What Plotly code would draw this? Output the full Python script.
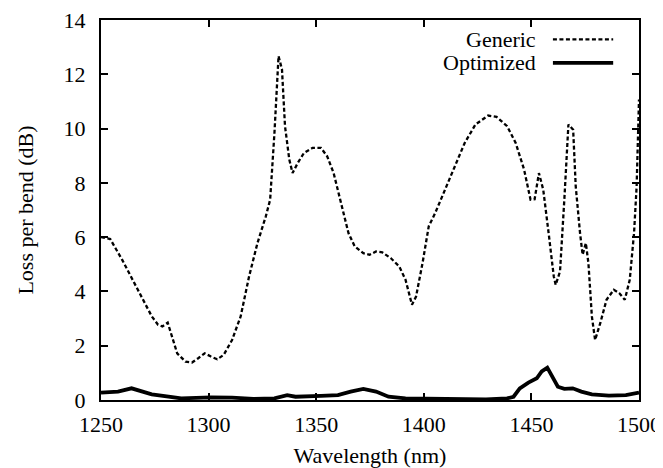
import plotly.graph_objs as go

# Generic fibre: wavelength (nm) and loss per bend (dB)
generic_wl = [1250, 1254.3, 1259.8, 1263.8, 1269.7, 1273.6, 1276.5, 1278.5, 1281, 1282.4,
              1285.4, 1289.3, 1292.3, 1295.2, 1298.2, 1301.1, 1304, 1307, 1310.9, 1314.9,
              1318.8, 1322.7, 1326.6, 1328.6, 1330.6, 1332.5, 1334.1, 1335.5, 1337.5, 1339,
              1341.4, 1344.3, 1348.3, 1352.2, 1355.1, 1358.1, 1362, 1365, 1367.9, 1371.9,
              1374.8, 1377.8, 1380.7, 1384.6, 1388.6, 1391.5, 1394.5, 1396.4, 1399.4, 1402.3,
              1405.3, 1409.2, 1414.1, 1419, 1424, 1429.9, 1433.8, 1438.7, 1442.7, 1446.6,
              1449.6, 1451.5, 1453.5, 1455.5, 1458, 1460.4, 1461.3, 1463.3, 1465.3, 1467.2,
              1469.4, 1470.6, 1472.6, 1473.8, 1475.3, 1476.5, 1478.1, 1479.6, 1482, 1484.9,
              1488.3, 1490.8, 1493.4, 1495.7, 1497.7, 1498.9, 1500]
generic_loss = [6.0, 5.93, 5.17, 4.55, 3.69, 3.08, 2.77, 2.71, 2.85, 2.46,
                1.72, 1.41, 1.38, 1.54, 1.72, 1.60, 1.50, 1.66, 2.21, 3.08,
                4.55, 5.78, 6.77, 7.38, 9.84, 12.67, 12.18, 10.09, 8.86, 8.36,
                8.73, 9.10, 9.29, 9.29, 8.98, 8.36, 7.13, 6.15, 5.66, 5.41,
                5.35, 5.47, 5.44, 5.23, 4.92, 4.43, 3.51, 3.81, 5.04, 6.40,
                6.89, 7.63, 8.49, 9.47, 10.15, 10.48, 10.43, 10.09, 9.47, 8.49,
                7.38, 7.40, 8.36, 7.75, 6.15, 4.55, 4.24, 4.74, 7.38, 10.15,
                9.96, 7.87, 6.15, 5.35, 5.78, 5.04, 3.08, 2.21, 2.83, 3.69,
                4.06, 3.94, 3.69, 4.43, 6.15, 7.87, 11.07]

# Optimized fibre
opt_wl = [1250, 1257.9, 1264.2, 1267.7, 1273.6, 1281.4, 1287.3, 1301.1, 1310.9, 1320.8,
          1330.6, 1336.5, 1340.4, 1352.2, 1360.1, 1366, 1371.9, 1377.8, 1383.6, 1391.5,
          1409.2, 1428.9, 1438.7, 1441.7, 1444.6, 1448.6, 1452.5, 1454.8, 1457.4, 1459.4,
          1462.3, 1465.3, 1469.2, 1473.2, 1478.1, 1486, 1493.9, 1500]
opt_loss = [0.27, 0.31, 0.43, 0.34, 0.21, 0.12, 0.06, 0.10, 0.09, 0.04,
            0.06, 0.18, 0.12, 0.15, 0.18, 0.31, 0.41, 0.31, 0.12, 0.06,
            0.04, 0.02, 0.06, 0.12, 0.43, 0.64, 0.80, 1.05, 1.19, 0.92,
            0.49, 0.41, 0.43, 0.31, 0.21, 0.16, 0.18, 0.27]

legend_names = ["Generic", "Optimized"]

FONT = "Liberation Serif, Times New Roman, serif"
SIZE = 22

generic_line = dict(color="black", width=2.3, dash="4px,2.5px")
opt_line = dict(color="black", width=3.8)

fig = go.Figure()
fig.add_trace(go.Scatter(x=generic_wl, y=generic_loss, mode="lines", name=legend_names[0],
                         line=generic_line, showlegend=False))
fig.add_trace(go.Scatter(x=opt_wl, y=opt_loss, mode="lines", name=legend_names[1],
                         line=opt_line, showlegend=False))

axis_style = dict(showline=True, linewidth=2, linecolor="black", mirror="ticks",
                  ticks="inside", ticklen=7, tickwidth=2, tickcolor="black",
                  showgrid=False, zeroline=False, automargin=False,
                  ticklabeloverflow="allow",
                  tickfont=dict(family=FONT, size=SIZE, color="black"))

fig.update_xaxes(range=[1250, 1500], dtick=50, ticklabelstandoff=4,
                 title=dict(text="Wavelength (nm)", font=dict(family=FONT, size=SIZE, color="black"), standoff=12),
                 **axis_style)
fig.update_yaxes(range=[0, 14], dtick=2, ticklabelstandoff=9,
                 title=dict(text="Loss per bend (dB)", font=dict(family=FONT, size=SIZE, color="black"), standoff=24),
                 **axis_style)

# gnuplot-style key: text on the left, line sample on the right
key_rows = [(0.949, generic_line), (0.887, opt_line)]
for name, (ypos, line) in zip(legend_names, key_rows):
    fig.add_annotation(xref="paper", yref="paper", x=0.812, y=ypos, text=name,
                       showarrow=False, xanchor="right", yanchor="middle",
                       font=dict(family=FONT, size=SIZE, color="black"))
    fig.add_shape(type="line", xref="paper", yref="paper", x0=0.84, x1=0.952,
                  y0=ypos, y1=ypos, line=line)

# page body adds an 8px offset, so the figure is 8px smaller than the window
fig.update_layout(width=655, height=460, template="plotly_white",
                  plot_bgcolor="white", paper_bgcolor="white",
                  margin=dict(l=93, r=24, t=12, b=68),
                  font=dict(family=FONT, size=SIZE, color="black"))

fig.write_html("out.html")
